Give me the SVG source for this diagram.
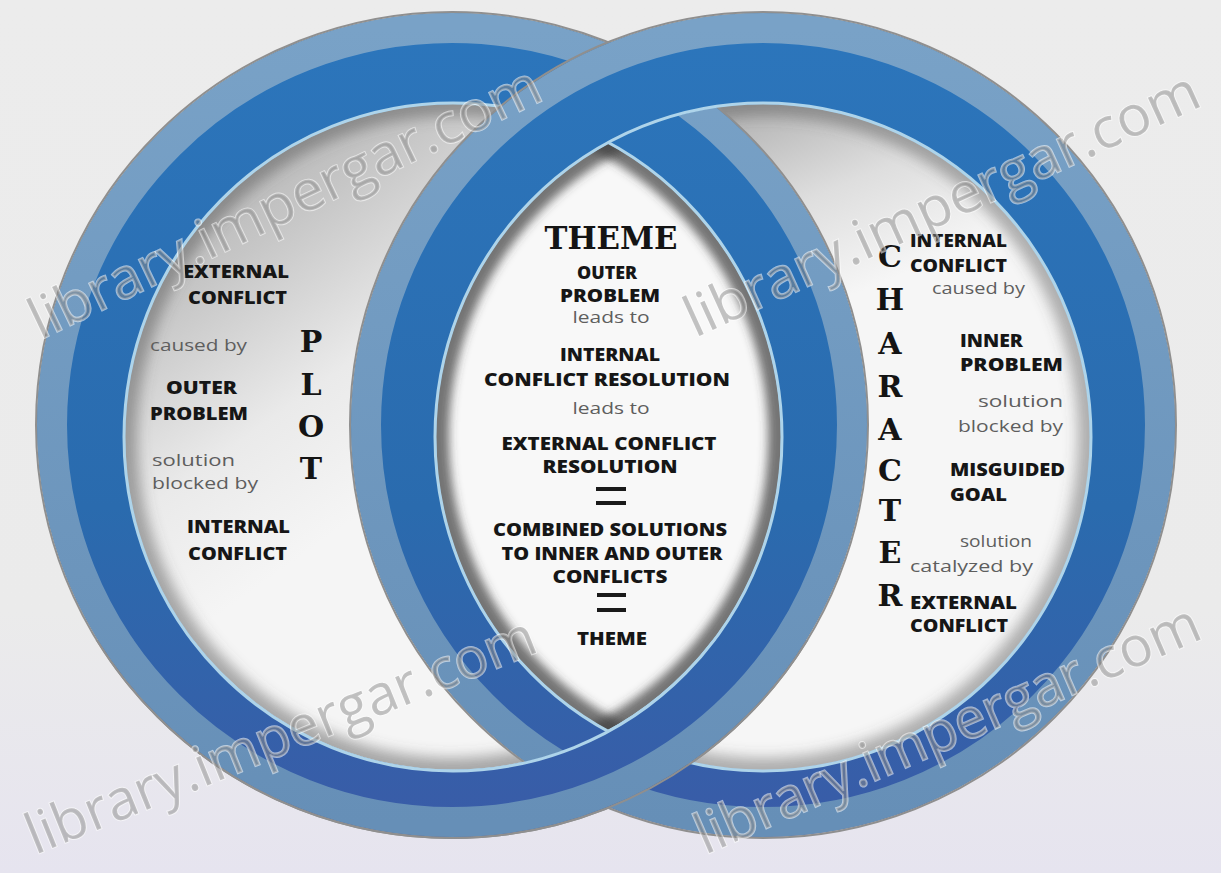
<svg xmlns="http://www.w3.org/2000/svg" width="1221" height="873" viewBox="0 0 1221 873">
<style>
.cap{font-family:"Open Sans","Liberation Sans",sans-serif;font-weight:800;font-size:18px;fill:#161616}
.sm{font-family:"Open Sans","Liberation Sans",sans-serif;font-weight:400;font-size:16px;fill:#5e5e5e}
.ser{font-family:"DejaVu Serif","Liberation Serif",serif;font-weight:bold;font-size:30px;fill:#141414;text-anchor:middle}
.mid{text-anchor:middle}
.wm{font-family:"Open Sans","Liberation Sans",sans-serif;font-size:56px;fill:#8a8a8a;fill-opacity:.5;stroke:#ffffff;stroke-opacity:.55;stroke-width:2;paint-order:stroke}
.dark{fill:url(#gDark);fill-rule:evenodd}
.light{fill:none;stroke:url(#gLight);stroke-width:30}
.edge{fill:none;stroke:#8f8f8f;stroke-width:2}
.hi{fill:none;stroke:#aed4ea;stroke-width:3}
.eq{fill:#1a1a1a}
</style>
<defs>
<linearGradient id="gBg" x1="0" y1="0" x2="0" y2="1">
<stop offset="0" stop-color="#ececec"/><stop offset="0.7" stop-color="#ebebeb"/><stop offset="1" stop-color="#e6e4ef"/>
</linearGradient>
<linearGradient id="gDark" x1="0" y1="0" x2="0" y2="1">
<stop offset="0" stop-color="#2c76bc"/><stop offset="0.6" stop-color="#2a6bae"/><stop offset="1" stop-color="#3a5ba7"/>
</linearGradient>
<linearGradient id="gLight" x1="0" y1="0" x2="0" y2="1">
<stop offset="0" stop-color="#79a2c7"/><stop offset="1" stop-color="#668fb7"/>
</linearGradient>
<linearGradient id="gL" gradientUnits="userSpaceOnUse" x1="130" y1="150" x2="380" y2="500">
<stop offset="0" stop-color="#a9a9a9"/><stop offset="0.35" stop-color="#c6c6c6"/><stop offset="0.7" stop-color="#eaeaea"/><stop offset="1" stop-color="#f5f5f5"/>
</linearGradient>
<linearGradient id="gR" gradientUnits="userSpaceOnUse" x1="760" y1="105" x2="840" y2="300">
<stop offset="0" stop-color="#b4b4b4"/><stop offset="0.5" stop-color="#dedede"/><stop offset="1" stop-color="#f6f6f6"/>
</linearGradient>
<filter id="blur7" x="-10%" y="-10%" width="120%" height="120%"><feGaussianBlur stdDeviation="7"/></filter>
<filter id="blur5" x="-10%" y="-10%" width="120%" height="120%"><feGaussianBlur stdDeviation="5"/></filter>
<clipPath id="clipLin"><ellipse cx="453" cy="437" rx="328" ry="333"/></clipPath>
<clipPath id="clipRin"><ellipse cx="763" cy="437" rx="327" ry="333"/></clipPath>
<clipPath id="clipLens"><ellipse cx="453" cy="437" rx="328" ry="333" clip-path="url(#clipRin)"/></clipPath>
<clipPath id="clipBottom"><rect x="0" y="640" width="1221" height="233"/></clipPath>
<g id="bandL">
<path class="dark" d="M37,425 a415,412 0 1,0 830,0 a415,412 0 1,0 -830,0Z M125,437 a328,333 0 1,0 656,0 a328,333 0 1,0 -656,0Z"/>
<ellipse class="light" cx="452" cy="425" rx="400" ry="397"/>
<ellipse class="edge" cx="452" cy="425" rx="416" ry="413"/>
<ellipse class="hi" cx="453" cy="437" rx="329" ry="334"/>
</g>
<g id="bandR">
<path class="dark" d="M351,425 a412,412 0 1,0 824,0 a412,412 0 1,0 -824,0Z M436,437 a327,333 0 1,0 654,0 a327,333 0 1,0 -654,0Z"/>
<ellipse class="light" cx="763" cy="425" rx="397" ry="397"/>
<ellipse class="edge" cx="763" cy="425" rx="413" ry="413"/>
<ellipse class="hi" cx="763" cy="437" rx="328" ry="334"/>
</g>
</defs>

<rect x="0" y="0" width="1221" height="873" fill="url(#gBg)"/>

<g id="plot-interior">
<ellipse cx="453" cy="437" rx="328" ry="333" fill="url(#gL)"/>
<g clip-path="url(#clipLin)">
<ellipse cx="453" cy="437" rx="328" ry="333" fill="none" stroke="#555" stroke-width="24" stroke-opacity="0.5" filter="url(#blur7)"/>
</g>
</g>

<g id="character-interior">
<ellipse cx="763" cy="437" rx="327" ry="333" fill="url(#gR)"/>
<g clip-path="url(#clipRin)">
<ellipse cx="763" cy="437" rx="327" ry="333" fill="none" stroke="#555" stroke-width="24" stroke-opacity="0.45" filter="url(#blur7)"/>
</g>
</g>

<g id="theme-lens" clip-path="url(#clipLens)">
<rect x="420" y="100" width="380" height="650" fill="#f8f8f8"/>
<ellipse cx="453" cy="437" rx="328" ry="333" fill="none" stroke="#3c3c3c" stroke-width="26" stroke-opacity="0.7" filter="url(#blur5)"/>
<ellipse cx="763" cy="437" rx="327" ry="333" fill="none" stroke="#3c3c3c" stroke-width="26" stroke-opacity="0.7" filter="url(#blur5)"/>
</g>

<g id="plot-ring"><use href="#bandL"/></g>
<g id="character-ring"><use href="#bandR"/></g>
<g id="plot-ring-front"><use href="#bandL" clip-path="url(#clipBottom)"/></g>

<g id="connectors"></g>

<g id="plot-labels">
<text class="cap" x="183" y="278" textLength="106" lengthAdjust="spacingAndGlyphs">EXTERNAL</text>
<text class="cap" x="188" y="304" textLength="99" lengthAdjust="spacingAndGlyphs">CONFLICT</text>
<text class="sm" x="150" y="351" textLength="97" lengthAdjust="spacingAndGlyphs">caused by</text>
<text class="cap" x="166" y="394" textLength="71" lengthAdjust="spacingAndGlyphs">OUTER</text>
<text class="cap" x="150" y="420" textLength="98" lengthAdjust="spacingAndGlyphs">PROBLEM</text>
<text class="sm" x="152" y="466" textLength="83" lengthAdjust="spacingAndGlyphs">solution</text>
<text class="sm" x="152" y="489" textLength="106" lengthAdjust="spacingAndGlyphs">blocked by</text>
<text class="cap" x="187" y="533" textLength="103" lengthAdjust="spacingAndGlyphs">INTERNAL</text>
<text class="cap" x="188" y="560" textLength="99" lengthAdjust="spacingAndGlyphs">CONFLICT</text>
<text class="ser" x="311" y="352">P</text>
<text class="ser" x="311" y="395">L</text>
<text class="ser" x="311" y="437">O</text>
<text class="ser" x="311" y="479">T</text>
</g>

<g id="theme-labels">
<text class="ser" x="611" y="249" style="font-size:32px" textLength="133" lengthAdjust="spacingAndGlyphs">THEME</text>
<text class="cap mid" x="607" y="279" textLength="60" lengthAdjust="spacingAndGlyphs">OUTER</text>
<text class="cap mid" x="610" y="302" textLength="100" lengthAdjust="spacingAndGlyphs">PROBLEM</text>
<text class="sm mid" x="611" y="323" textLength="77" lengthAdjust="spacingAndGlyphs">leads to</text>
<text class="cap mid" x="610" y="361" textLength="100" lengthAdjust="spacingAndGlyphs">INTERNAL</text>
<text class="cap mid" x="607" y="386" textLength="246" lengthAdjust="spacingAndGlyphs">CONFLICT RESOLUTION</text>
<text class="sm mid" x="611" y="414" textLength="77" lengthAdjust="spacingAndGlyphs">leads to</text>
<text class="cap mid" x="609" y="450" textLength="215" lengthAdjust="spacingAndGlyphs">EXTERNAL CONFLICT</text>
<text class="cap mid" x="610" y="473" textLength="135" lengthAdjust="spacingAndGlyphs">RESOLUTION</text>
<rect class="eq" x="596" y="487" width="30" height="4"/>
<rect class="eq" x="596" y="501" width="30" height="4"/>
<text class="cap mid" x="610" y="536" textLength="234" lengthAdjust="spacingAndGlyphs">COMBINED SOLUTIONS</text>
<text class="cap mid" x="612" y="560" textLength="221" lengthAdjust="spacingAndGlyphs">TO INNER AND OUTER</text>
<text class="cap mid" x="610" y="583" textLength="115" lengthAdjust="spacingAndGlyphs">CONFLICTS</text>
<rect class="eq" x="597" y="593" width="29" height="4"/>
<rect class="eq" x="597" y="608" width="29" height="4"/>
<text class="cap mid" x="612" y="645" textLength="70" lengthAdjust="spacingAndGlyphs">THEME</text>
</g>

<g id="character-labels">
<text class="ser" x="890" y="267">C</text>
<text class="ser" x="890" y="310">H</text>
<text class="ser" x="890" y="354">A</text>
<text class="ser" x="890" y="397">R</text>
<text class="ser" x="890" y="440">A</text>
<text class="ser" x="890" y="481">C</text>
<text class="ser" x="890" y="521">T</text>
<text class="ser" x="890" y="563">E</text>
<text class="ser" x="890" y="606">R</text>
<text class="cap" x="910" y="247" textLength="97" lengthAdjust="spacingAndGlyphs">INTERNAL</text>
<text class="cap" x="910" y="272" textLength="97" lengthAdjust="spacingAndGlyphs">CONFLICT</text>
<text class="sm" x="932" y="294" textLength="93" lengthAdjust="spacingAndGlyphs">caused by</text>
<text class="cap" x="960" y="347" textLength="63" lengthAdjust="spacingAndGlyphs">INNER</text>
<text class="cap" x="960" y="371" textLength="103" lengthAdjust="spacingAndGlyphs">PROBLEM</text>
<text class="sm" x="978" y="407" textLength="85" lengthAdjust="spacingAndGlyphs">solution</text>
<text class="sm" x="958" y="432" textLength="105" lengthAdjust="spacingAndGlyphs">blocked by</text>
<text class="cap" x="950" y="476" textLength="115" lengthAdjust="spacingAndGlyphs">MISGUIDED</text>
<text class="cap" x="950" y="501" textLength="57" lengthAdjust="spacingAndGlyphs">GOAL</text>
<text class="sm" x="960" y="547" textLength="72" lengthAdjust="spacingAndGlyphs">solution</text>
<text class="sm" x="910" y="572" textLength="123" lengthAdjust="spacingAndGlyphs">catalyzed by</text>
<text class="cap" x="910" y="609" textLength="107" lengthAdjust="spacingAndGlyphs">EXTERNAL</text>
<text class="cap" x="910" y="632" textLength="98" lengthAdjust="spacingAndGlyphs">CONFLICT</text>
</g>

<g id="watermarks">
<text class="wm" transform="translate(40,340) rotate(-25.5)" textLength="560" lengthAdjust="spacingAndGlyphs">library.impergar.com</text>
<text class="wm" transform="translate(695,338) rotate(-24.6)" textLength="560" lengthAdjust="spacingAndGlyphs">library.impergar.com</text>
<text class="wm" transform="translate(35,855) rotate(-22)" textLength="545" lengthAdjust="spacingAndGlyphs">library.impergar.com</text>
<text class="wm" transform="translate(705,855) rotate(-23.5)" textLength="545" lengthAdjust="spacingAndGlyphs">library.impergar.com</text>
</g>
</svg>
